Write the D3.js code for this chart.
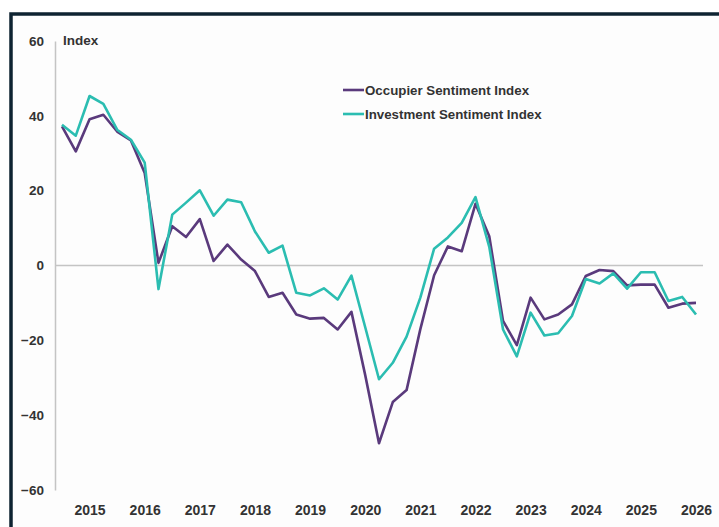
<!DOCTYPE html>
<html lang="en">
<head>
    <meta charset="UTF-8">
    <script src="https://d3js.org/d3.v7.min.js"></script>
    <title>Sentiment Index</title>
    <style>
        body { margin: 0; background: #fff; }
        svg { display: block; }
    </style>
</head>
<body>
    <div id="container"></div>
    <script>
        // quarters from 2014 Q3 to 2026 Q1
        const quarters = [];
        for (let y = 2014; y <= 2026; y++) {
            for (let q = 1; q <= 4; q++) {
                if ((y == 2014 && q < 3) || (y == 2026 && q > 1)) continue;
                quarters.push(y + " Q" + q);
            }
        }
        const occupier = [37.2, 30.5, 39.1, 40.3, 35.8, 33.4, 24.7, 0.7, 10.5, 7.6, 12.4, 1.2,
            5.6, 1.6, -1.5, -8.4, -7.3, -13.1, -14.2, -14, -17.1, -12.4, -29.3, -47.5,
            -36.5, -33.3, -17, -2.6, 5.1, 3.8, 16.5, 7.8, -14.8, -21.3, -8.6, -14.4,
            -13.1, -10.4, -2.8, -1.2, -1.5, -5.3, -5.1, -5.1, -11.3, -10.2, -10];
        const investment = [37.6, 34.7, 45.3, 43.2, 36.3, 33.6, 27.5, -6.3, 13.6, 16.8, 20.1, 13.3,
            17.6, 16.9, 9.1, 3.4, 5.3, -7.3, -8, -6.1, -9.1, -2.7, -16.5, -30.4,
            -26, -19, -8.6, 4.5, 7.5, 11.4, 18.3, 5, -17.1, -24.3, -12.6, -18.7,
            -18.1, -13.5, -3.6, -4.8, -2.1, -6.2, -1.8, -1.8, -9.5, -8.4, -13.1];
        const yTicks = [-60, -40, -20, 0, 20, 40, 60];
        const seriesNames = ["Occupier Sentiment Index", "Investment Sentiment Index"];
        const colors = ["#5a3a7c", "#2bbdb1"];

        const width = 719, height = 527;
        const font = "'Liberation Sans Narrow', 'Arial Narrow', 'Liberation Sans', sans-serif";
        const svg = d3.select("#container")
            .append("svg")
            .attr("width", width)
            .attr("height", height);

        // frame
        svg.append("rect")
            .attr("x", 11).attr("y", 14)
            .attr("width", 740).attr("height", 540)
            .attr("fill", "#fdfdfd")
            .attr("stroke", "#0e2331")
            .attr("stroke-width", 3.5);

        const x = d3.scaleLinear()
            .domain([0, quarters.length - 1])
            .range([62, 696]);
        const y = d3.scaleLinear()
            .domain([-60, 60])
            .range([490, 41]);

        // y axis
        const yAxis = svg.append("g")
            .attr("transform", "translate(55,0)")
            .call(d3.axisLeft(y).tickValues(yTicks).tickSize(0).tickPadding(11));
        yAxis.select(".domain").attr("stroke", "#c4c4c4").attr("stroke-width", 1.5);
        yAxis.selectAll("text")
            .attr("font-family", font)
            .attr("font-weight", "bold")
            .attr("font-size", 13.5)
            .attr("fill", "#333");

        // zero line
        svg.append("line")
            .attr("x1", 55).attr("x2", 703)
            .attr("y1", y(0)).attr("y2", y(0))
            .attr("stroke", "#c4c4c4")
            .attr("stroke-width", 1.5);

        // x axis: year labels at Q1
        const q1 = quarters.map((d, i) => i).filter(i => quarters[i].endsWith("Q1"));
        const xAxis = svg.append("g")
            .attr("transform", "translate(0,505)")
            .call(d3.axisBottom(x).tickValues(q1).tickSize(0).tickPadding(0)
                .tickFormat(i => quarters[i].slice(0, 4)));
        xAxis.select(".domain").remove();
        xAxis.selectAll("text")
            .attr("font-family", font)
            .attr("font-weight", "bold")
            .attr("font-size", 14)
            .attr("fill", "#333");

        // axis title
        svg.append("text")
            .attr("x", 63).attr("y", 45)
            .attr("font-family", font)
            .attr("font-weight", "bold")
            .attr("font-size", 13.5)
            .attr("fill", "#333")
            .text("Index");

        // lines
        const line = d3.line()
            .x((d, i) => x(i))
            .y(d => y(d));
        [occupier, investment].forEach((s, k) => {
            svg.append("path")
                .datum(s)
                .attr("d", line)
                .attr("fill", "none")
                .attr("stroke", colors[k])
                .attr("stroke-width", 2.6)
                .attr("stroke-linejoin", "round");
        });

        // legend
        const legend = svg.append("g")
            .attr("transform", "translate(343,90)");
        seriesNames.forEach((name, k) => {
            const g = legend.append("g").attr("transform", `translate(0,${k * 24})`);
            g.append("line")
                .attr("x1", 0).attr("x2", 21)
                .attr("stroke", colors[k])
                .attr("stroke-width", 2.6);
            g.append("text")
                .attr("x", 22).attr("y", 5)
                .attr("font-family", font)
                .attr("font-weight", "bold")
                .attr("font-size", 13.3)
                .attr("fill", "#333")
                .text(name);
        });
    </script>
</body>
</html>
